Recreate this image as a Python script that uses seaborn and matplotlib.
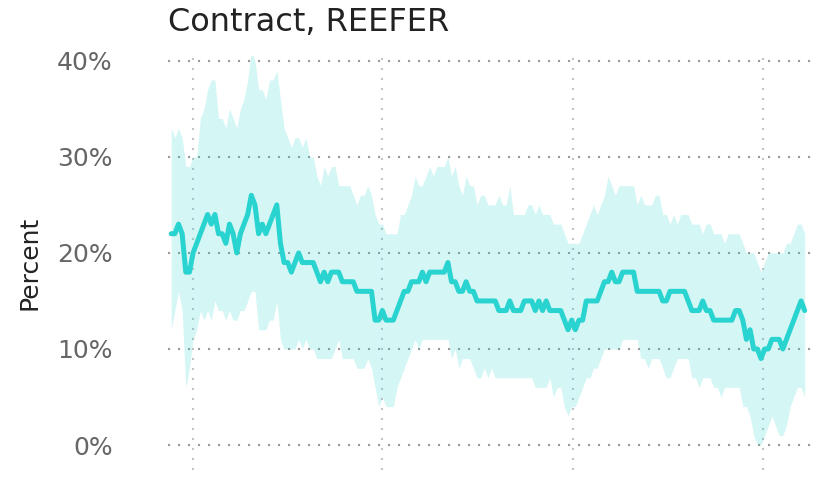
import numpy as np
import pandas as pd
import matplotlib
matplotlib.use("Agg")
import matplotlib.pyplot as plt
import matplotlib.dates as mdates
from matplotlib.ticker import FuncFormatter
import seaborn as sns

# weekly series (percent)
start_date = "2018-11-21"
mean_pct = [22, 22, 23, 22, 18, 18, 20, 21, 22, 23, 24, 23, 24, 22, 22, 21, 23, 22, 20, 22,
            23, 24, 26, 25, 22, 23, 22,
            23, 24, 25, 21, 19, 19, 18, 19, 20, 19, 19, 19, 19, 18, 17, 18, 17, 18, 18, 18,
            17, 17, 17, 17, 16, 16, 16, 16, 16,
            13, 13, 14, 13, 13, 13, 14, 15, 16, 16, 17, 17, 17, 18, 17, 18, 18, 18, 18, 18,
            19, 17, 17, 16, 16, 17, 16, 16, 15, 15,
            15, 15, 15, 15, 14, 14, 14, 15, 14, 14, 14, 15, 15, 15, 14, 15, 14, 15, 14, 14,
            14, 14, 13, 12, 13, 12, 13, 13,
            15, 15, 15, 15, 16, 17, 17, 18, 17, 17, 18, 18, 18, 18, 16, 16, 16, 16, 16, 16,
            16, 15, 15, 16, 16, 16, 16, 16, 15,
            14, 14, 14, 15, 14, 14, 13, 13, 13, 13, 13, 13, 14, 14, 13, 11, 12, 10, 10, 9,
            10, 10, 11, 11, 11, 10, 11, 12, 13, 14, 15, 14]
upper_pct = [33, 32, 33, 32, 29, 29, 30, 30, 34, 35, 37, 38, 38, 34, 34, 33, 35, 34, 33, 35,
             36, 38, 41, 40, 37, 37, 36,
             38, 38, 39, 36, 33, 32, 31, 32, 32, 31, 32, 30, 30, 28, 27, 29, 28, 29, 29, 27,
             27, 27, 27, 26, 25, 26, 26, 27, 26,
             24, 23, 23, 22, 22, 22, 22, 24, 24, 25, 26, 28, 27, 27, 28, 29, 28, 29, 29, 29,
             30, 28, 29, 27, 26, 28, 27, 27, 25, 26,
             26, 25, 25, 25, 26, 25, 25, 27, 24, 24, 24, 24, 25, 25, 24, 25, 24, 24, 24, 23,
             23, 23, 22, 21, 21, 21, 21, 22,
             23, 24, 25, 24, 25, 26, 28, 27, 26, 27, 27, 27, 27, 27, 25, 26, 25, 25, 25, 26,
             26, 24, 24, 23, 24, 23, 24, 24, 24,
             23, 23, 23, 22, 23, 23, 22, 22, 22, 21, 22, 22, 22, 22, 21, 20, 20, 20, 19, 18,
             19, 20, 20, 20, 20, 20, 21, 21, 22, 23, 23, 22]
lower_pct = [12, 14, 16, 14, 6, 8, 11, 12, 14, 13, 14, 13, 15, 14, 14, 13, 14, 13, 13, 14,
             14, 15, 16, 16, 12, 12, 12,
             13, 13, 15, 11, 10, 10, 10, 10, 11, 10, 11, 10, 10, 9, 9, 9, 9, 9, 10, 11,
             9, 9, 9, 9, 8, 8, 8, 9, 8,
             6, 4, 5, 4, 4, 4, 6, 7, 8, 9, 10, 11, 10, 11, 11, 11, 11, 11, 11, 11,
             11, 9, 10, 8, 9, 9, 9, 8, 7, 7,
             8, 7, 8, 7, 7, 7, 7, 7, 7, 7, 7, 7, 7, 7, 6, 6, 6, 6, 7, 5,
             6, 6, 4, 3, 4, 4, 5, 6,
             7, 7, 8, 8, 9, 10, 10, 10, 10, 10, 11, 11, 11, 11, 11, 9, 9, 8, 9, 9,
             9, 8, 7, 7, 8, 9, 9, 9, 9,
             7, 7, 6, 7, 7, 7, 6, 6, 5, 6, 6, 6, 6, 6, 4, 4, 3, 1, 0, 0,
             1, 2, 3, 2, 1, 1, 2, 4, 5, 6, 6, 5]
y_ticks = [0, 10, 20, 30, 40]
title = "Contract, REEFER"
y_label = "Percent"

line_color = "#29d3cf"

dates = pd.date_range(start_date, periods=len(mean_pct), freq="7D")
df = pd.DataFrame({"date": dates, "mean": mean_pct, "lo": lower_pct, "hi": upper_pct})

sns.set_style("white")
plt.rcParams["font.family"] = ["DejaVu Sans"]

fig = plt.figure(figsize=(8.2, 4.94), dpi=100)
ax = fig.add_axes([0.205, 0.0486, 0.789, 0.838])

ax.fill_between(df["date"], df["lo"], df["hi"], color=line_color, alpha=0.2, lw=0)
sns.lineplot(data=df, x="date", y="mean", color=line_color, linewidth=3.6, ax=ax)

ax.set_ylim(-2.6, 40.5)
ax.set_xlim(dates[0] - pd.Timedelta(days=6), dates[-1] + pd.Timedelta(days=20))
ax.set_yticks(y_ticks)
ax.yaxis.set_major_formatter(FuncFormatter(lambda v, p: f"{v:.0f}%"))
ax.xaxis.set_major_locator(mdates.YearLocator())
ax.set_xticklabels([])
ax.tick_params(axis="both", length=0)
ax.tick_params(axis="y", labelsize=18, labelcolor="#666666", pad=40)

ax.grid(axis="y", color="#999999", linestyle=(0, (1, 3.8)), linewidth=1.5)
ax.grid(axis="x", color="#c4c4c4", linestyle=(0, (1, 3.8)), linewidth=1.5)
for s in ax.spines.values():
    s.set_visible(False)

ax.set_xlabel("")
ax.set_ylabel(y_label, fontsize=18, color="#222222")
ax.yaxis.set_label_coords(-0.195, 0.5)
ax.set_title(title, loc="left", fontsize=23, color="#222222", pad=18)

fig.savefig("out.png", dpi=100)
